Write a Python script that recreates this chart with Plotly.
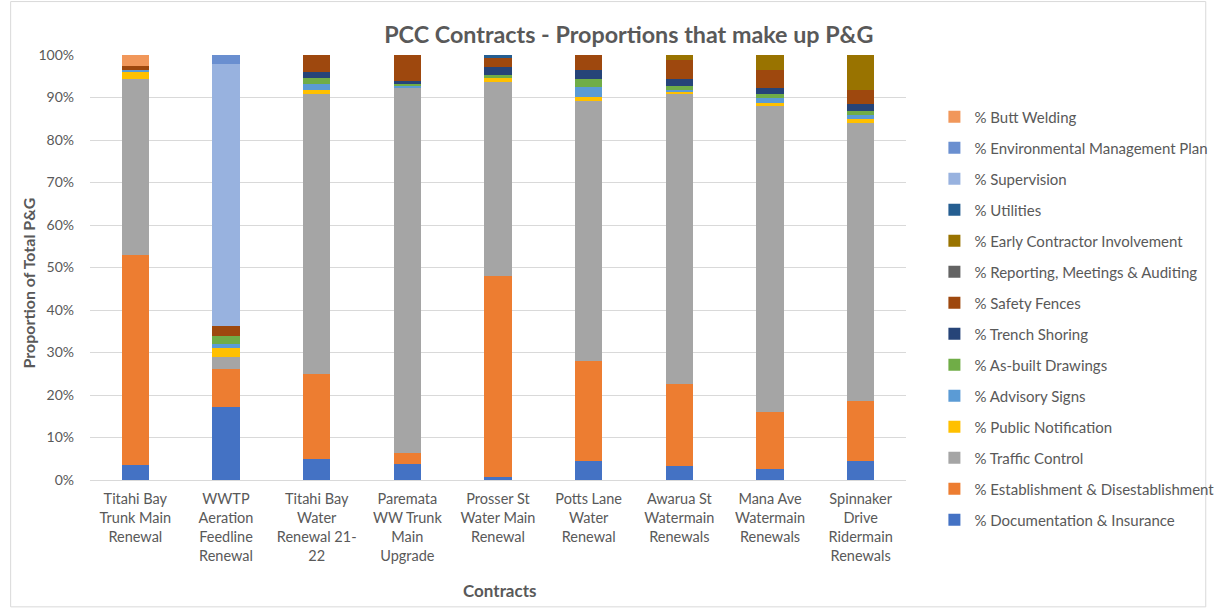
import plotly.graph_objects as go

contracts = [
    "Titahi Bay<br>Trunk Main<br>Renewal",
    "WWTP<br>Aeration<br>Feedline<br>Renewal",
    "Titahi Bay<br>Water<br>Renewal 21-<br>22",
    "Paremata<br>WW Trunk<br>Main<br>Upgrade",
    "Prosser St<br>Water Main<br>Renewal",
    "Potts Lane<br>Water<br>Renewal",
    "Awarua St<br>Watermain<br>Renewals",
    "Mana Ave<br>Watermain<br>Renewals",
    "Spinnaker<br>Drive<br>Ridermain<br>Renewals",
]

# values in percent of total P&G, bottom of stack first
documentation = [3.5, 17.1, 4.9, 3.8, 0.6, 4.5, 3.2, 2.6, 4.5]
establishment = [49.5, 9.0, 20.0, 2.6, 47.5, 23.4, 19.4, 13.5, 14.2]
traffic_control = [41.4, 2.9, 66.0, 85.8, 45.6, 61.3, 68.3, 71.9, 65.4]
public_notification = [1.7, 1.95, 0.9, 0.0, 0.9, 0.9, 0.4, 0.6, 0.9]
advisory_signs = [0.4, 1.0, 1.3, 0.5, 0.0, 2.3, 0.55, 1.25, 1.0]
as_built = [0.0, 1.95, 1.6, 0.55, 0.6, 2.0, 0.9, 1.0, 0.9]
trench_shoring = [0.0, 0.0, 1.2, 0.55, 2.0, 2.0, 1.5, 1.3, 1.6]
safety_fences = [0.85, 2.3, 4.1, 6.2, 2.1, 3.6, 4.5, 4.4, 3.3]
reporting = [0, 0, 0, 0, 0, 0, 0, 0, 0]
early_contractor = [0, 0, 0, 0, 0, 0, 1.2, 3.45, 8.1]
utilities = [0, 0, 0, 0, 0.7, 0, 0, 0, 0]
supervision = [0, 61.8, 0, 0, 0, 0, 0, 0, 0]
environmental = [0, 2.0, 0, 0, 0, 0, 0, 0, 0]
butt_welding = [2.6, 0, 0, 0, 0, 0, 0, 0, 0]

series = [
    ("% Documentation & Insurance", documentation, "#4472C4"),
    ("% Establishment & Disestablishment", establishment, "#ED7D31"),
    ("% Traffic Control", traffic_control, "#A5A5A5"),
    ("% Public Notification", public_notification, "#FFC000"),
    ("% Advisory Signs", advisory_signs, "#5B9BD5"),
    ("% As-built Drawings", as_built, "#70AD47"),
    ("% Trench Shoring", trench_shoring, "#264478"),
    ("% Safety Fences", safety_fences, "#9E480E"),
    ("% Reporting, Meetings & Auditing", reporting, "#636363"),
    ("% Early Contractor Involvement", early_contractor, "#997300"),
    ("% Utilities", utilities, "#255E91"),
    ("% Supervision", supervision, "#98B2DF"),
    ("% Environmental Management Plan", environmental, "#6A8FD0"),
    ("% Butt Welding", butt_welding, "#F1975A"),
]

FONT = "Lato, Open Sans, sans-serif"
GREY = "#595959"

fig = go.Figure()
for i, (name, vals, col) in enumerate(series):
    fig.add_trace(go.Bar(
        x=contracts, y=vals, name=name, legendgroup=name,
        legendrank=1000 - i,
        marker=dict(color=col, line=dict(width=0)),
    ))

L, R, T, B = 90, 308, 54.5, 131
W, H = 1231, 611
pw, ph = W - L - R, H - T - B

def px_x(x):
    return (x - L) / pw

def px_y(y):
    return (H - B - y) / ph

fig.update_layout(
    width=W, height=H,
    barmode="stack", bargap=0.7,
    margin=dict(l=L, r=R, t=T, b=B),
    paper_bgcolor="white", plot_bgcolor="white",
    font=dict(family=FONT, color=GREY, size=14),
    title=dict(text="<b>PCC Contracts - Proportions that make up P&G</b>",
               x=px_x(640), xref="paper", xanchor="center",
               y=1 - 35 / H, yanchor="middle",
               font=dict(size=23.3, color=GREY, family=FONT)),
    legend=dict(traceorder="grouped", tracegroupgap=8.5,
                x=px_x(952), xanchor="left", y=px_y(100), yanchor="top",
                maxheight=560, borderwidth=0,
                font=dict(size=15, color=GREY, family=FONT),
                bgcolor="rgba(0,0,0,0)"),
    showlegend=True,
)
fig.update_yaxes(range=[0, 100], dtick=10, ticksuffix="%",
                 gridcolor="#D9D9D9", gridwidth=1, zeroline=False,
                 showline=False, tickfont=dict(size=14, color=GREY),
                 ticks="", ticklen=0, ticklabelstandoff=15)
fig.update_xaxes(showline=True, linecolor="#D9D9D9", linewidth=1,
                 tickfont=dict(size=14.5, color=GREY), ticks="",
                 ticklabelstandoff=6)

fig.add_annotation(text="<b>Proportion of Total P&G</b>", textangle=-90,
                   xref="paper", yref="paper", x=px_x(27), y=px_y(283),
                   xanchor="center", yanchor="middle",
                   showarrow=False, font=dict(size=16, color=GREY, family=FONT))
fig.add_annotation(text="<b>Contracts</b>",
                   xref="paper", yref="paper", x=px_x(508), y=px_y(591),
                   xanchor="center", yanchor="middle",
                   showarrow=False, font=dict(size=17, color=GREY, family=FONT))
fig.add_shape(type="rect", xref="paper", yref="paper",
              x0=px_x(9), x1=px_x(1229), y0=px_y(607), y1=px_y(1),
              line=dict(color="#D9D9D9", width=1), layer="below")

fig.write_html("out.html")
